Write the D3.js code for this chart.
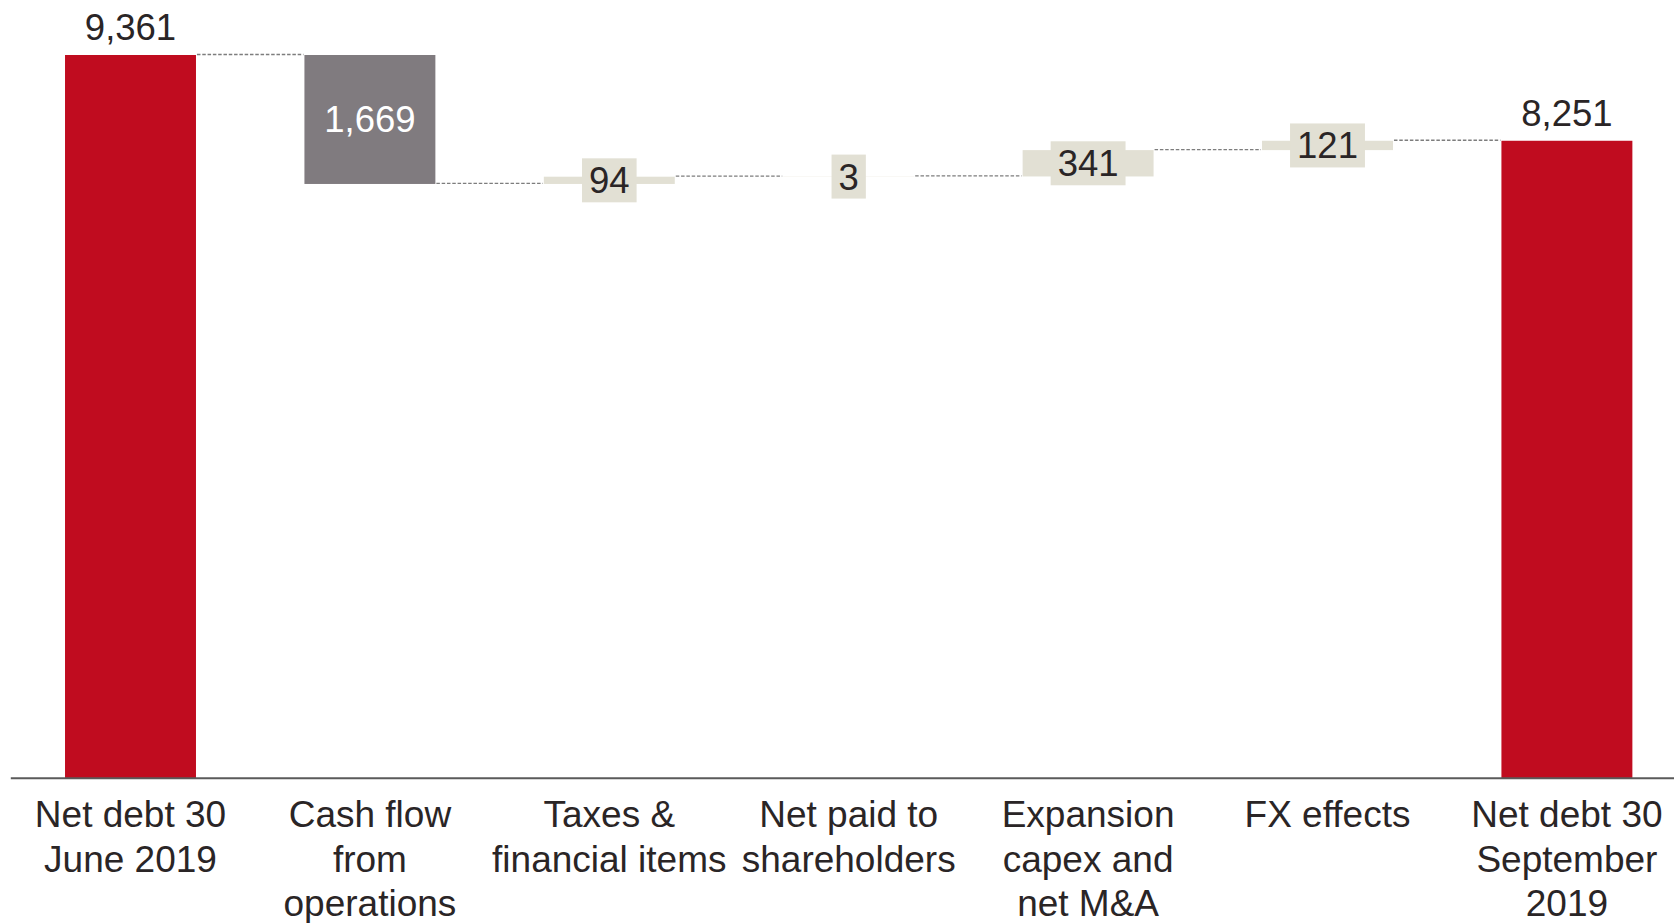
<!DOCTYPE html>
<html>
<head>
<meta charset="utf-8">
<script src="https://cdn.jsdelivr.net/npm/d3@7"></script>
<style>
  html, body { margin: 0; padding: 0; background: #ffffff; }
  svg { display: block; }
  text { font-family: "Liberation Sans", Arial, sans-serif; }
</style>
</head>
<body>
<svg id="chart" width="1674" height="923"></svg>
<script>
// Net debt bridge, MSEK
const categories = [
  "Net debt 30\nJune 2019",
  "Cash flow\nfrom\noperations",
  "Taxes &\nfinancial items",
  "Net paid to\nshareholders",
  "Expansion\ncapex and\nnet M&A",
  "FX effects",
  "Net debt 30\nSeptember\n2019"
];
const values = [9361, -1669, 94, 3, 341, 121, 8251];
const kinds = ["total", "step", "step", "step", "step", "step", "total"];
const valueLabels = ["9,361", "1,669", "94", "3", "341", "121", "8,251"];

const colors = { total: "#c00c1f", down: "#807b7f", up: "#e2e0d4", text: "#2a2526" };

const W = 1674, H = 923;
const baseY = 778.3;
const svg = d3.select("#chart");

// running totals -> bar extents
let running = 0;
const bars = values.map((v, i) => {
  let y0, y1;
  if (kinds[i] === "total") { y0 = 0; y1 = v; running = v; }
  else { y0 = running; y1 = running + v; running = y1; }
  return { cat: categories[i], v, kind: kinds[i], y0, y1, label: valueLabels[i], i };
});

const x = d3.scaleBand()
  .domain(categories)
  .range([10.8, 10.8 + 7 * 239.4])
  .paddingInner(0.453)
  .paddingOuter(0.2265);

const y = d3.scaleLinear().domain([0, 9361]).range([baseY, 55]);

const fillFor = b => b.kind === "total" ? colors.total : (b.v < 0 ? colors.down : colors.up);

// dashed connectors between consecutive bars at the running level
const conn = svg.append("g");
for (let i = 0; i < bars.length - 1; i++) {
  const level = bars[i].y1;
  conn.append("line")
    .attr("x1", x(bars[i].cat) + x.bandwidth() + 1)
    .attr("x2", x(bars[i + 1].cat) - 1)
    .attr("y1", y(level) - 0.5)
    .attr("y2", y(level) - 0.5)
    .attr("stroke", "#7d7d7d")
    .attr("stroke-width", 1.3)
    .attr("stroke-dasharray", "3.5,1.8");
}

// bars
svg.append("g").selectAll("rect")
  .data(bars)
  .join("rect")
  .attr("x", d => x(d.cat))
  .attr("width", x.bandwidth())
  .attr("y", d => y(Math.max(d.y0, d.y1)))
  .attr("height", d => Math.abs(y(d.y0) - y(d.y1)))
  .attr("fill", fillFor);

// value labels
const lab = svg.append("g");
bars.forEach(b => {
  const cx = x(b.cat) + x.bandwidth() / 2;
  if (b.kind === "total") {
    lab.append("text")
      .attr("x", cx)
      .attr("y", y(b.y1) - 15)
      .attr("text-anchor", "middle")
      .attr("font-size", 36.5)
      .attr("fill", colors.text)
      .text(b.label);
  } else if (b.v < 0) {
    const mid = (y(b.y0) + y(b.y1)) / 2;
    lab.append("text")
      .attr("x", cx)
      .attr("y", mid + 13)
      .attr("text-anchor", "middle")
      .attr("font-size", 36.5)
      .attr("fill", "#ffffff")
      .text(b.label);
  } else {
    const mid = (y(b.y0) + y(b.y1)) / 2;
    const t = lab.append("text")
      .attr("x", cx)
      .attr("y", mid + 13)
      .attr("text-anchor", "middle")
      .attr("font-size", 36.5)
      .attr("fill", colors.text)
      .text(b.label);
    const tw = t.node().getComputedTextLength();
    lab.insert("rect", () => t.node())
      .attr("x", cx - tw / 2 - 7)
      .attr("width", tw + 14)
      .attr("y", mid - 22)
      .attr("height", 44)
      .attr("fill", colors.up);
  }
});

// category axis
const axis = svg.append("g").attr("transform", `translate(0,${baseY})`);
axis.append("line")
  .attr("x1", x.range()[0])
  .attr("x2", W)
  .attr("y1", 0).attr("y2", 0)
  .attr("stroke", "#5a5a5a")
  .attr("stroke-width", 2);

axis.selectAll("text.cat")
  .data(categories)
  .join("text")
  .attr("class", "cat")
  .attr("text-anchor", "middle")
  .attr("font-size", 37)
  .attr("fill", colors.text)
  .attr("x", d => x(d) + x.bandwidth() / 2)
  .attr("y", 49)
  .each(function (d) {
    const el = d3.select(this);
    d.split("\n").forEach((line, k) => {
      el.append("tspan")
        .attr("x", x(d) + x.bandwidth() / 2)
        .attr("dy", k === 0 ? 0 : 44.4)
        .text(line);
    });
  });
</script>
</body>
</html>
